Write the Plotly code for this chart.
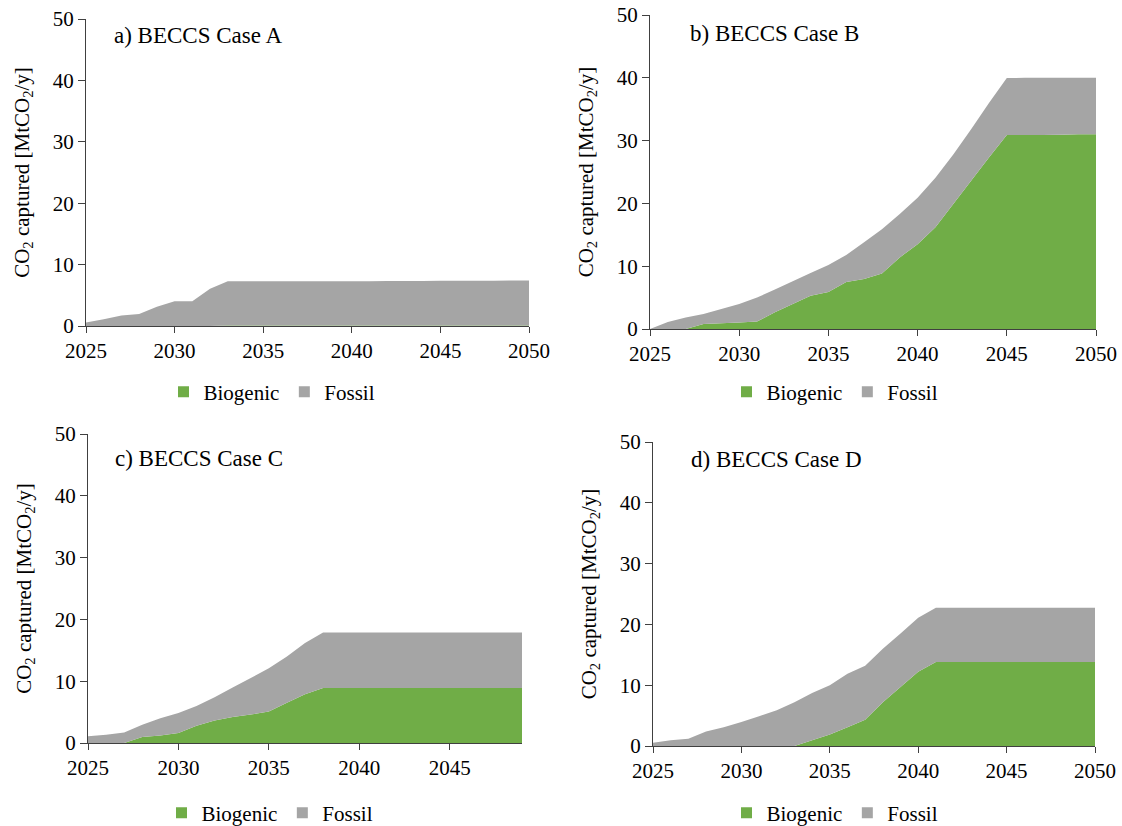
import plotly.graph_objects as go

years_full = list(range(2025, 2051))
years_c = list(range(2025, 2050))

# Case A
bio_a = [0, 0, 0, 0, 0, 0, 0, 0, 0.1, 0.1, 0.1, 0.1, 0.1, 0.1, 0.1, 0.1, 0.1, 0.1, 0.1, 0.1, 0.1, 0.1, 0.1, 0.1, 0.1, 0.1]
fos_a = [0.55, 1.1, 1.7, 1.95, 3.15, 4.05, 4.05, 6.05, 7.2, 7.2, 7.2, 7.2, 7.2, 7.2, 7.2, 7.2, 7.2, 7.22, 7.22, 7.23, 7.25, 7.25, 7.27, 7.28, 7.3, 7.3]

# Case B
bio_b = [0, 0, 0, 0.8, 0.9, 1.05, 1.2, 2.65, 4.0, 5.3, 5.9, 7.5, 7.95, 8.85, 11.4, 13.5, 16.2, 19.9, 23.6, 27.3, 30.9, 30.9, 30.9, 30.95, 31.0, 31.0]
fos_b = [0, 1.1, 1.85, 1.6, 2.3, 2.95, 3.8, 3.65, 3.6, 3.6, 4.3, 4.3, 5.85, 7.05, 6.9, 7.4, 7.9, 7.9, 8.2, 8.7, 9.05, 9.1, 9.1, 9.05, 9.0, 9.0]

# Case C (to 2049)
bio_c = [0, 0, 0, 0.97, 1.2, 1.6, 2.8, 3.66, 4.2, 4.6, 5.1, 6.5, 7.9, 8.9, 8.9, 8.9, 8.9, 8.9, 8.9, 8.9, 8.9, 8.9, 8.9, 8.9, 8.9]
fos_c = [1.1, 1.35, 1.7, 2.0, 2.8, 3.25, 3.2, 3.74, 4.8, 5.9, 7.0, 7.5, 8.3, 9.0, 9.0, 9.0, 9.0, 9.0, 9.0, 9.0, 9.0, 9.0, 9.0, 9.0, 9.0]

# Case D
bio_d = [0, 0, 0, 0, 0, 0, 0, 0, 0, 0.93, 1.9, 3.1, 4.3, 7.2, 9.7, 12.2, 13.8, 13.8, 13.8, 13.8, 13.8, 13.8, 13.8, 13.8, 13.8, 13.8]
fos_d = [0.55, 0.93, 1.2, 2.4, 3.1, 3.95, 4.9, 5.9, 7.2, 7.8, 8.1, 8.8, 8.9, 8.8, 8.8, 8.9, 8.95, 8.95, 8.95, 8.95, 8.95, 8.95, 8.95, 8.95, 8.95, 8.95]

titles = ["a) BECCS Case A", "b) BECCS Case B", "c) BECCS Case C", "d) BECCS Case D"]
series_names = ["Biogenic", "Fossil"]
GREEN = "#70AD47"
GRAY = "#A5A5A5"
FONT = "Liberation Serif, Times New Roman, serif"
W, H = 1122, 826

panels = [
    dict(x=years_full, bio=bio_a, fos=fos_a, px=(86, 529), py=(326, 19), xr=[2025, 2050], tpos=(112, 35), lpos=(272, 392)),
    dict(x=years_full, bio=bio_b, fos=fos_b, px=(650, 1096), py=(329, 15), xr=[2025, 2050], tpos=(688, 34), lpos=(835, 392)),
    dict(x=years_c, bio=bio_c, fos=fos_c, px=(88, 522), py=(743, 434), xr=[2025, 2049], tpos=(113, 458), lpos=(270, 813)),
    dict(x=years_full, bio=bio_d, fos=fos_d, px=(653, 1095), py=(746, 442), xr=[2025, 2050], tpos=(689, 459), lpos=(835, 813)),
]


def fx(px):
    return px / W


def fy(py):
    return 1 - py / H


fig = go.Figure()
layout = dict(
    width=W, height=H, margin=dict(l=0, r=0, t=0, b=0, autoexpand=False),
    paper_bgcolor="white", plot_bgcolor="white",
    font=dict(family=FONT, size=21, color="#000000"),
    showlegend=True, annotations=[],
)

for i, p in enumerate(panels):
    n = "" if i == 0 else str(i + 1)
    xa, ya = "x" + n, "y" + n
    lg = "legend" + n
    sg = "s" + str(i)
    fig.add_trace(go.Scatter(x=p["x"], y=p["bio"], stackgroup=sg, mode="none",
                             fillcolor=GREEN, name=series_names[0], showlegend=False,
                             xaxis=xa, yaxis=ya))
    fig.add_trace(go.Scatter(x=p["x"], y=p["fos"], stackgroup=sg, mode="none",
                             fillcolor=GRAY, name=series_names[1], showlegend=False,
                             xaxis=xa, yaxis=ya))
    for nm, col in zip(series_names, [GREEN, GRAY]):
        fig.add_trace(go.Scatter(x=[None], y=[None], mode="markers", name=nm,
                                 marker=dict(symbol="square", size=11, color=col),
                                 legend=lg, xaxis=xa, yaxis=ya))
    x0, x1 = p["px"]
    yb, yt = p["py"]
    layout["xaxis" + n] = dict(
        domain=[fx(x0), fx(x1)], range=p["xr"], anchor=ya, automargin=False,
        tickmode="array", tickvals=list(range(2025, p["xr"][1] + 1, 5)),
        ticks="outside", ticklen=6, tickcolor="#404040",
        showline=True, linecolor="#404040", linewidth=1.3,
        showgrid=False, zeroline=False, ticklabeloverflow="allow",
        tickfont=dict(family=FONT, size=21),
    )
    layout["yaxis" + n] = dict(
        domain=[fy(yb), fy(yt)], range=[0, 50], anchor=xa, automargin=False,
        tickmode="linear", tick0=0, dtick=10,
        ticks="outside", ticklen=7, tickcolor="#404040",
        showline=True, linecolor="#404040", linewidth=1.3,
        showgrid=False, zeroline=False, ticklabeloverflow="allow",
        tickfont=dict(family=FONT, size=21),
        title=dict(text="CO<sub>2</sub> captured [MtCO<sub>2</sub>/y]",
                   font=dict(family=FONT, size=21), standoff=17),
    )
    layout[lg] = dict(
        orientation="h", x=fx(p["lpos"][0]), y=fy(p["lpos"][1]),
        xanchor="center", yanchor="middle", bgcolor="rgba(0,0,0,0)",
        font=dict(family=FONT, size=21), itemwidth=30, traceorder="normal",
    )
    layout["annotations"].append(dict(
        text=titles[i], xref="paper", yref="paper",
        x=fx(p["tpos"][0]), y=fy(p["tpos"][1]),
        xanchor="left", yanchor="middle", showarrow=False,
        font=dict(family=FONT, size=23, color="#000000"),
    ))

fig.update_layout(**layout)
fig.write_html("out.html", config={"displayModeBar": False},
               post_script="document.body.style.margin='0';document.body.style.overflow='hidden';")
